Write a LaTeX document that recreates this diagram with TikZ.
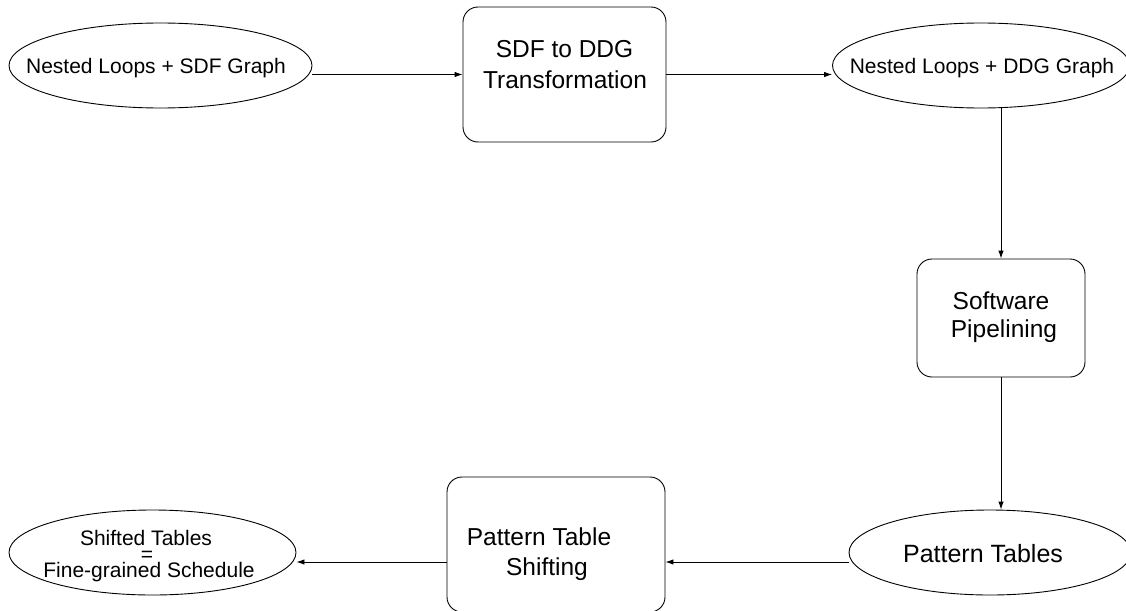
\documentclass[tikz,border=0pt]{standalone}
\usepackage{fontspec}
\setmainfont{Liberation Sans}
\usetikzlibrary{shapes.geometric,arrows.meta}
\tikzset{
  ell/.style={draw, ellipse, line width=0.9pt, inner sep=0pt, minimum height=85pt},
  procbox/.style={draw, rectangle, rounded corners=15pt, line width=0.9pt, inner sep=0pt},
  arr/.style={line width=0.9pt, -{Latex[length=8pt,width=5.5pt]}},
  bigtxt/.style={anchor=base, inner sep=0pt, font=\fontsize{24.5}{30}\selectfont},
  midtxt/.style={anchor=base, inner sep=0pt, font=\fontsize{21}{25}\selectfont},
  pttxt/.style={anchor=base, inner sep=0pt, font=\fontsize{25}{30}\selectfont}
}
\begin{document}
\begin{tikzpicture}[x=1pt,y=-1pt]
\clip (0,0) rectangle (1126,610);
% ellipses
\node[ell, minimum width=303pt] (e1) at (160.5,65.5) {};
\node[ell, minimum width=297pt] (e2) at (981,65.5) {};
\node[ell, minimum width=282pt] (e3) at (990,552.5) {};
\node[ell, minimum width=287pt] (e4) at (152.5,552.5) {};
% boxes
\node[procbox, minimum width=203pt, minimum height=135pt] (b1) at (564.5,74.5) {};
\node[procbox, minimum width=168pt, minimum height=118pt] (b2) at (1001,318) {};
\node[procbox, minimum width=218pt, minimum height=135pt] (b3) at (556,544.5) {};
% texts
\node[midtxt] (t1) at (156,74) {Nested Loops + SDF Graph};
\node[midtxt] (t2) at (982,74) {Nested Loops + DDG Graph};
\node[bigtxt] (t3a) at (564.5,58) {SDF to DDG};
\node[bigtxt] (t3b) at (565,88) {Transformation};
\node[bigtxt] (t4a) at (1001,309) {Software};
\node[bigtxt] (t4b) at (1004,337) {Pipelining};
\node[pttxt] (t5) at (983,562) {Pattern Tables};
\node[bigtxt] (t6a) at (539,545) {Pattern Table};
\node[bigtxt] (t6b) at (547,575) {Shifting};
\node[midtxt] (t7a) at (146,545) {Shifted Tables};
\node[midtxt] (t7b) at (147,561) {=};
\node[midtxt] (t7c) at (149,577) {Fine-grained Schedule};
% connectors
\coordinate (row2) at (0,562);
\draw[arr] (e1.east |- b1.west) -- (b1.west);
\draw[arr] (b1.east) -- (b1.east -| e2.west);
\draw[arr] (b2.north |- e2.south) -- (b2.north);
\draw[arr] (b2.south) -- (b2.south |- e3.north);
\draw[arr] (e3.west |- row2) -- (b3.east |- row2);
\draw[arr] (b3.west |- row2) -- (e4.east |- row2);
\end{tikzpicture}
\end{document}
